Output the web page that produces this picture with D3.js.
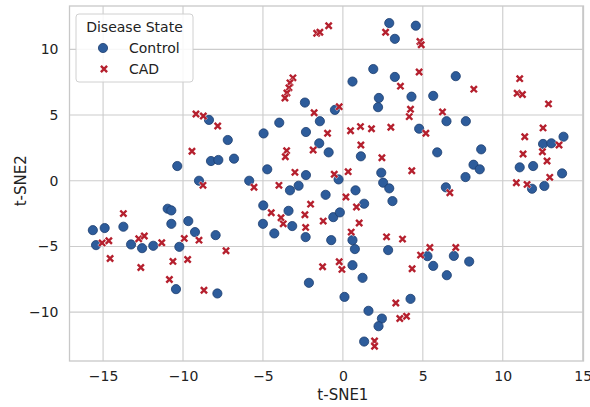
<!DOCTYPE html>
<html lang="en">
<head>
<meta charset="utf-8">
<title>t-SNE by Disease State</title>
<script src="https://cdn.jsdelivr.net/npm/d3@7"></script>
<style>
    body { margin: 0; background: #fff; }
    .grid line { stroke: #cccccc; stroke-width: 1.1; }
    .axis text { font-family: "DejaVu Sans", sans-serif; font-size: 14px; fill: #222; }
    .label { font-family: "DejaVu Sans", sans-serif; font-size: 15px; fill: #222; }
    .legend text { font-family: "DejaVu Sans", sans-serif; font-size: 14px; fill: #222; }
</style>
</head>
<body>
<div id="chart"></div>
<script>
// t-SNE coordinates, [t-SNE1, t-SNE2]
const control = [
    [2.9,12.0],[3.25,10.8],[4.56,11.8],[1.9,8.5],[0.6,7.55],[3.25,7.9],[2.25,6.3],[2.2,5.6],
    [-2.375,5.95],[-1.44,4.53],[-0.5,5.39],[-8.375,4.63],[-7.2,3.1],[-4.96,3.6],[-3.98,4.42],
    [-2.31,3.71],[7.06,7.96],[4.29,6.4],[5.65,6.46],[6.48,4.53],[7.69,4.53],[4.77,3.96],
    [13.8,3.35],[-10.36,1.12],[-9.0,0.0],[-10.96,-2.13],[-10.73,-2.26],[-10.73,-3.28],
    [-9.67,-3.07],[-9.25,-3.91],[-15.64,-3.76],[-14.9,-3.6],[-13.73,-3.5],[-15.44,-4.9],
    [-13.25,-4.85],[-12.56,-5.13],[-11.86,-4.95],[-10.23,-5.03],[-10.44,-8.25],[-8.25,1.5],
    [-7.79,1.58],[-6.81,1.68],[-5.86,0.0],[-4.73,0.87],[-2.31,0.43],[-3.31,-0.73],
    [-2.77,-0.38],[-1.48,2.85],[-0.89,2.16],[-0.27,0.1],[1.125,1.86],[2.4,0.61],
    [2.52,-0.15],[2.9,-0.58],[3.1,-1.55],[-1.08,-1.07],[0.79,-0.73],[1.33,-1.75],
    [-4.98,-1.88],[-3.4,-2.29],[-3.17,-3.45],[-5.0,-3.28],[-4.29,-4.01],[-2.33,-4.29],
    [-0.6,-2.77],[-0.19,-2.41],[0.6,-4.52],[0.75,-5.2],[-0.73,-4.52],[2.83,-5.28],
    [-7.96,-4.14],[0.6,-6.43],[-7.85,-8.58],[-2.125,-7.77],[1.23,-7.39],[0.1,-8.84],
    [1.6,-9.9],[2.44,-10.49],[2.23,-11.07],[1.33,-12.24],[5.65,-6.48],[6.5,-7.19],
    [7.9,-6.15],[4.23,-8.99],[5.9,2.16],[8.65,2.39],[8.17,1.22],[8.56,0.87],[7.67,0.28],
    [6.44,-0.5],[12.52,2.8],[13.04,2.85],[11.06,1.02],[11.9,1.12],[13.71,0.56],
    [11.83,-0.61],[12.6,-0.4],[5.29,-5.74],[6.94,-5.72]
];
const cad = [
    [-1.64,11.23],[-1.44,11.3],[-0.89,11.8],[2.67,11.3],[3.6,7.2],[-3.125,7.83],[-3.31,7.45],
    [-3.375,7.07],[-3.5,6.68],[-3.625,6.3],[-1.8,5.18],[-0.23,5.64],[-9.19,5.08],[-8.73,4.93],[-7.83,4.17],
    [-0.96,3.61],[0.48,3.81],[1.1,4.12],[1.79,3.96],[3.0,4.07],[4.82,10.6],[4.9,10.35],
    [4.77,8.28],[8.19,6.97],[4.23,5.44],[4.15,4.88],[6.23,5.24],[5.19,3.61],[11.06,7.77],
    [10.9,6.66],[11.23,6.56],[12.86,5.85],[12.52,4.02],[11.375,3.35],[-9.44,2.24],
    [-13.73,-2.5],[-15.06,-4.73],[-14.64,-4.57],[-12.77,-4.42],[-12.42,-4.21],[-11.33,-4.72],
    [-9.92,-4.39],[-9.0,-4.52],[-14.56,-5.92],[-12.64,-6.6],[-10.63,-6.14],[-9.71,-5.99],
    [-10.85,-7.52],[-8.75,-0.35],[-5.56,-0.5],[-3.52,2.29],[-3.6,1.83],[-3.0,0.64],
    [-4.0,-0.35],[-1.86,2.34],[-0.54,0.49],[0.33,0.69],[1.125,2.72],[2.44,1.75],
    [0.19,-1.24],[0.85,-2.0],[-2.02,-1.78],[-4.48,-2.44],[-3.87,-2.82],[-3.73,-3.28],
    [-2.375,-2.59],[-2.33,-3.55],[-1.23,-3.07],[1.02,-3.22],[0.52,-3.91],[2.73,-4.27],
    [-7.31,-5.33],[-1.27,-6.55],[-0.23,-6.17],[-0.06,-6.75],[-8.69,-8.33],[3.31,-9.3],
    [3.56,-10.49],[3.98,-10.31],[1.98,-12.2],[1.98,-12.6],[4.33,-6.7],[4.31,0.76],
    [6.69,-0.91],[13.52,2.72],[11.27,2.03],[12.48,2.21],[12.77,1.5],[12.94,0.26],
    [10.85,-0.15],[11.52,-0.28],[3.73,-4.44],[5.44,-5.08],[7.06,-5.08],[4.86,-5.66]
];
const xTicks = [-15, -10, -5, 0, 5, 10, 15];
const yTicks = [-10, -5, 0, 5, 10];
const groups = ["Control", "CAD"];

const WIDTH = 590, HEIGHT = 407;
const MARGIN = { top: 6, right: 6.5, bottom: 46, left: 69.5 };
const BLUE = "#2d5c9b", BLUE_EDGE = "#1d3d6e", RED = "#b5202e";

let svg = d3.select("#chart").append("svg")
    .attr("width", WIDTH)
    .attr("height", HEIGHT);

let xScale = d3.scaleLinear()
    .domain([-17.1, 15.05])
    .range([MARGIN.left, WIDTH - MARGIN.right]);
let yScale = d3.scaleLinear()
    .domain([-13.72, 13.3])
    .range([HEIGHT - MARGIN.bottom, MARGIN.top]);

// grid
let grid = svg.append("g").attr("class", "grid");
grid.selectAll(".vx").data(xTicks).enter().append("line")
    .attr("x1", d => xScale(d)).attr("x2", d => xScale(d))
    .attr("y1", MARGIN.top).attr("y2", HEIGHT - MARGIN.bottom);
grid.selectAll(".hy").data(yTicks).enter().append("line")
    .attr("x1", MARGIN.left).attr("x2", WIDTH - MARGIN.right)
    .attr("y1", d => yScale(d)).attr("y2", d => yScale(d));

// frame
svg.append("rect")
    .attr("x", MARGIN.left).attr("y", MARGIN.top)
    .attr("width", WIDTH - MARGIN.right - MARGIN.left)
    .attr("height", HEIGHT - MARGIN.bottom - MARGIN.top)
    .attr("fill", "none").attr("stroke", "#c8c8c8").attr("stroke-width", 1.3);

// axes (labels only, seaborn style)
let xAxis = d3.axisBottom(xScale).tickValues(xTicks).tickSize(0).tickPadding(10)
    .tickFormat(d => d < 0 ? "\u2212" + Math.abs(d) : d);
let yAxis = d3.axisLeft(yScale).tickValues(yTicks).tickSize(0).tickPadding(11)
    .tickFormat(d => d < 0 ? "\u2212" + Math.abs(d) : d);

svg.append("g").attr("class", "axis")
    .attr("transform", "translate(0," + (HEIGHT - MARGIN.bottom) + ")")
    .call(xAxis).call(g => g.select(".domain").remove());
svg.append("g").attr("class", "axis")
    .attr("transform", "translate(" + MARGIN.left + ",0)")
    .call(yAxis).call(g => g.select(".domain").remove());

svg.append("text").attr("class", "label")
    .attr("x", xScale(0)).attr("y", 400)
    .attr("text-anchor", "middle").text("t-SNE1");
svg.append("text").attr("class", "label")
    .attr("transform", "translate(26," + yScale(0) + ") rotate(-90)")
    .attr("text-anchor", "middle").text("t-SNE2");

// points
function crossPath(s) {
    return "M" + (-s) + "," + (-s) + "L" + s + "," + s + "M" + (-s) + "," + s + "L" + s + "," + (-s);
}

svg.append("g").selectAll("circle").data(control).enter().append("circle")
    .attr("cx", d => xScale(d[0]))
    .attr("cy", d => yScale(d[1]))
    .attr("r", 4.6)
    .attr("fill", BLUE)
    .attr("stroke", BLUE_EDGE)
    .attr("stroke-width", 0.8);

let crosses = svg.append("g").selectAll("g").data(cad).enter().append("g")
    .attr("transform", d => "translate(" + xScale(d[0]) + "," + yScale(d[1]) + ")");
crosses.append("path").attr("d", crossPath(3.4))
    .attr("stroke", "#fff").attr("stroke-width", 3.4).attr("opacity", 0.6);
crosses.append("path").attr("d", crossPath(3.1))
    .attr("stroke", RED).attr("stroke-width", 2.4);

// legend
let legend = svg.append("g").attr("class", "legend");
legend.append("rect")
    .attr("x", 76).attr("y", 14).attr("width", 117).attr("height", 68).attr("rx", 3)
    .attr("fill", "#fff").attr("fill-opacity", 0.85)
    .attr("stroke", "#d0d0d0").attr("stroke-width", 1);
legend.append("text").attr("x", 134.5).attr("y", 31.5)
    .attr("text-anchor", "middle").text("Disease State");

let items = legend.selectAll(".item").data(groups).enter().append("g")
    .attr("class", "item")
    .attr("transform", (d, i) => "translate(0," + (48 + i * 21) + ")");
items.filter(d => d === "Control").append("circle")
    .attr("cx", 103).attr("cy", 0).attr("r", 4.6)
    .attr("fill", BLUE).attr("stroke", BLUE_EDGE).attr("stroke-width", 0.8);
items.filter(d => d === "CAD").append("path")
    .attr("transform", "translate(104,0)")
    .attr("d", crossPath(3.1)).attr("stroke", RED).attr("stroke-width", 2.4);
items.append("text").attr("x", 129).attr("y", 0).attr("dy", "0.35em").text(d => d);
</script>
</body>
</html>
